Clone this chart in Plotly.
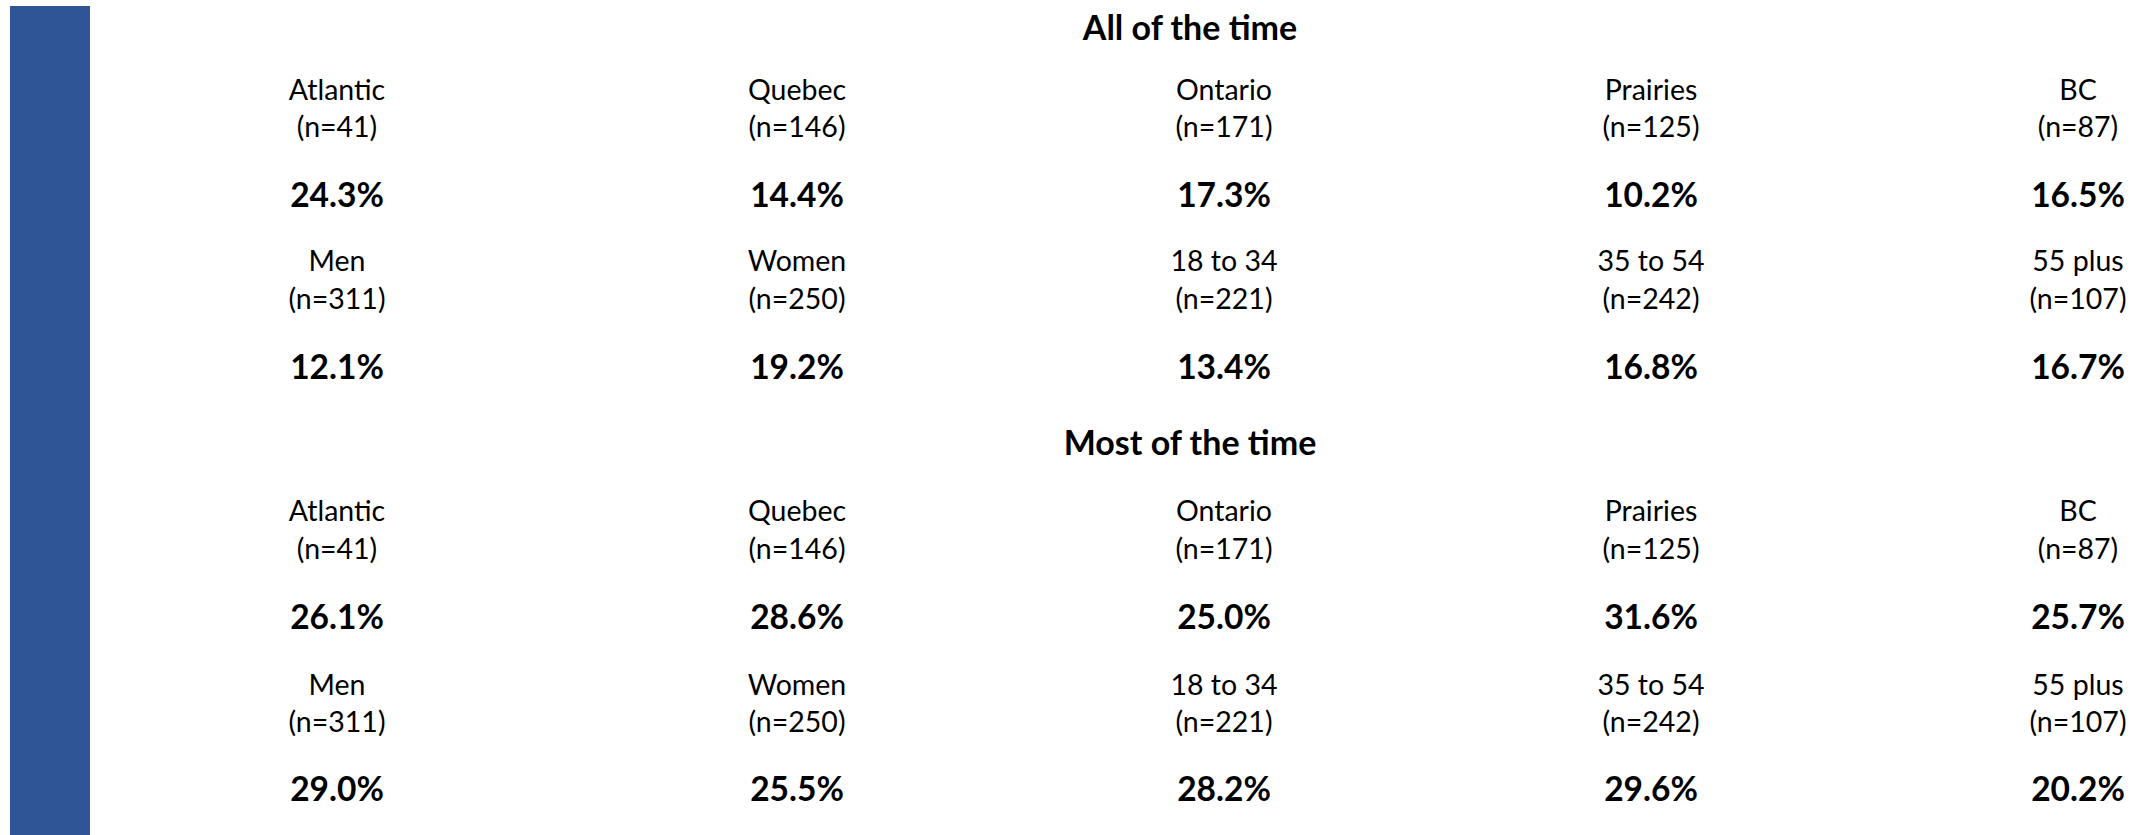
import plotly.graph_objects as go

# ---- data ----
section_titles = ["All of the time", "Most of the time"]
regions = ["Atlantic", "Quebec", "Ontario", "Prairies", "BC"]
region_n = [41, 146, 171, 125, 87]
demos = ["Men", "Women", "18 to 34", "35 to 54", "55 plus"]
demo_n = [311, 250, 221, 242, 107]
all_region = [24.3, 14.4, 17.3, 10.2, 16.5]
all_demo = [12.1, 19.2, 13.4, 16.8, 16.7]
most_region = [26.1, 28.6, 25.0, 31.6, 25.7]
most_demo = [29.0, 25.5, 28.2, 29.6, 20.2]

# ---- layout constants (pixel space) ----
W, H = 2138, 835
col_x = [337, 797, 1224, 1651, 2078]
title_x = 1190
FONT = "Lato"
LABEL_SIZE = 28.5
PCT_SIZE = 33.5
TITLE_SIZE = 34
BLUE = "#2F5597"

sections = [
    dict(title=section_titles[0], title_y=31.5,
         blocks=[(regions, region_n, all_region, (92.5, 130, 198.5)),
                 (demos, demo_n, all_demo, (264, 302, 371))]),
    dict(title=section_titles[1], title_y=446,
         blocks=[(regions, region_n, most_region, (514, 552, 621)),
                 (demos, demo_n, most_demo, (687.5, 725, 792.5))]),
]

fig = go.Figure()


def add_text(xs, ys, texts, size, bold):
    fig.add_trace(go.Scatter(
        x=xs, y=ys, text=texts, mode="text",
        textposition="middle center",
        textfont=dict(family=FONT, size=size, color="#000000",
                      weight="bold" if bold else "normal"),
        hoverinfo="skip", showlegend=False,
    ))


for sec in sections:
    add_text([title_x], [sec["title_y"]], [sec["title"]], TITLE_SIZE, True)
    for names, ns, vals, (y1, y2, y3) in sec["blocks"]:
        add_text(col_x, [y1] * len(names), names, LABEL_SIZE, False)
        add_text(col_x, [y2] * len(ns), [f"(n={n})" for n in ns], LABEL_SIZE, False)
        add_text(col_x, [y3] * len(vals), [f"{v:.1f}%" for v in vals], PCT_SIZE, True)

fig.add_shape(type="rect", xref="x", yref="y", x0=10, x1=90, y0=6, y1=H,
              fillcolor=BLUE, line=dict(width=0), layer="below")

fig.update_layout(
    width=W, height=H,
    margin=dict(l=0, r=0, t=0, b=0),
    paper_bgcolor="white", plot_bgcolor="white",
    xaxis=dict(range=[0, W], visible=False, fixedrange=True),
    yaxis=dict(range=[H, 0], visible=False, fixedrange=True),
    showlegend=False,
)

fig.write_html("out.html", config={"displayModeBar": False},
               post_script="document.body.style.margin='0';document.body.style.overflow='hidden';")
